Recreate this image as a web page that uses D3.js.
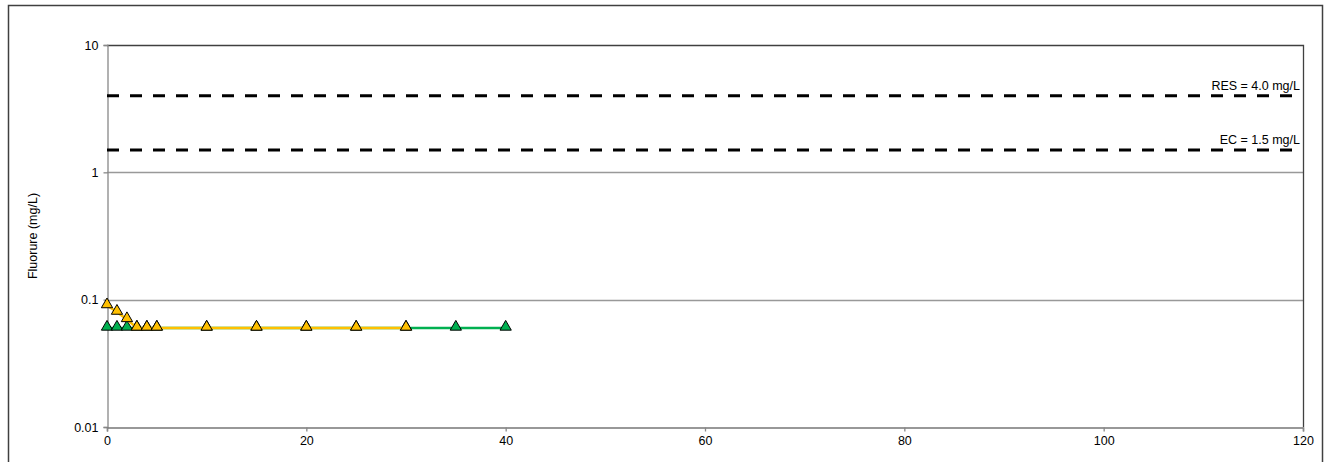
<!DOCTYPE html>
<html><head><meta charset="utf-8">
<script src="https://cdn.jsdelivr.net/npm/d3@7"></script>
<style>body{margin:0;background:#fff;} svg{display:block;}</style>
</head><body>
<svg id="c" width="1327" height="462"></svg>
<script>
const xTicks = [0, 20, 40, 60, 80, 100, 120];
const yTicks = [0.01, 0.1, 1, 10];
const yTickLabels = ["0.01", "0.1", "1", "10"];
const greenX = [0, 1, 2, 3, 4, 5, 10, 15, 20, 25, 30, 35, 40];
const greenY = [0.06, 0.06, 0.06, 0.06, 0.06, 0.06, 0.06, 0.06, 0.06, 0.06, 0.06, 0.06, 0.06];
const yellowX = [0, 1, 2, 3, 4, 5, 10, 15, 20, 25, 30];
const yellowY = [0.09, 0.08, 0.07, 0.06, 0.06, 0.06, 0.06, 0.06, 0.06, 0.06, 0.06];
const limitValues = [4.0, 1.5];
const limitLabels = ["RES = 4.0 mg/L", "EC = 1.5 mg/L"];
const yTitle = "Fluorure (mg/L)";

const svg = d3.select("#c");
const font = "Liberation Sans, Arial, sans-serif";
const L = 107, R = 1303, T = 45, B = 427;
const x = d3.scaleLinear().domain([0, 120]).range([L, R]);
const y = d3.scaleLog().domain([0.01, 10]).range([B, T]);

// outer border
svg.append("rect").attr("x", 8.5).attr("y", 5.5).attr("width", 1314).attr("height", 470)
  .attr("fill", "none").attr("stroke", "#404040").attr("stroke-width", 1.5);

// gridlines
svg.append("g").selectAll("line").data(yTicks.filter(d => d > 0.01 && d < 10)).join("line")
  .attr("x1", L).attr("x2", R).attr("y1", d => Math.round(y(d)) + 0.5).attr("y2", d => Math.round(y(d)) + 0.5)
  .attr("stroke", "#999").attr("stroke-width", 1.3);

// plot border top/right
svg.append("path").attr("d", `M${L},${T + 0.5}H${R + 0.5}V${B}`)
  .attr("fill", "none").attr("stroke", "#404040").attr("stroke-width", 1.3);

// axes
const yAxis = d3.axisLeft(y).tickValues(yTicks).tickFormat((d, i) => yTickLabels[i]).tickSize(4).tickPadding(5);
const gy = svg.append("g").attr("transform", `translate(${L + 0.5},0)`).call(yAxis);
gy.select(".domain").attr("stroke", "#888").attr("stroke-width", 1.3);
gy.selectAll(".tick line").attr("stroke", "#888").attr("stroke-width", 1.3);
gy.selectAll("text").attr("font-family", font).attr("font-size", 12.5).attr("fill", "#000");

const xAxis = d3.axisBottom(x).tickValues(xTicks).tickSize(4).tickPadding(5);
const gx = svg.append("g").attr("transform", `translate(0,${B + 0.5})`).call(xAxis);
gx.select(".domain").attr("stroke", "#777").attr("stroke-width", 1.5);
gx.selectAll(".tick line").attr("stroke", "#888").attr("stroke-width", 1.3);
gx.selectAll("text").attr("font-family", font).attr("font-size", 12.5).attr("fill", "#000");

// y title
svg.append("text").attr("transform", `translate(37,${(T + B) / 2}) rotate(-90)`)
  .attr("text-anchor", "middle").attr("font-family", font).attr("font-size", 12.5).text(yTitle);

// limit lines
limitValues.forEach((v, i) => {
  svg.append("line").attr("x1", L).attr("x2", R).attr("y1", y(v)).attr("y2", y(v))
    .attr("stroke", "#000").attr("stroke-width", 3).attr("stroke-dasharray", "12,11");
  svg.append("text").attr("x", R - 3).attr("y", y(v) - 6).attr("text-anchor", "end")
    .attr("font-family", font).attr("font-size", 12.5).text(limitLabels[i]);
});

// series
const tri = d3.symbol().type(d3.symbolTriangle).size(55);
function series(xs, ys, color) {
  const pts = xs.map((d, i) => [d, ys[i]]);
  svg.append("path").datum(pts)
    .attr("d", d3.line().x(d => x(d[0])).y(d => y(d[1])))
    .attr("fill", "none").attr("stroke", color).attr("stroke-width", 2.5);
  svg.append("g").selectAll("path").data(pts).join("path")
    .attr("transform", d => `translate(${x(d[0])},${y(d[1]) - 1})`)
    .attr("d", tri).attr("fill", color).attr("stroke", "#000").attr("stroke-width", 1);
}
series(greenX, greenY, "#00b050");
series(yellowX, yellowY, "#ffc000");
</script>
</body></html>
